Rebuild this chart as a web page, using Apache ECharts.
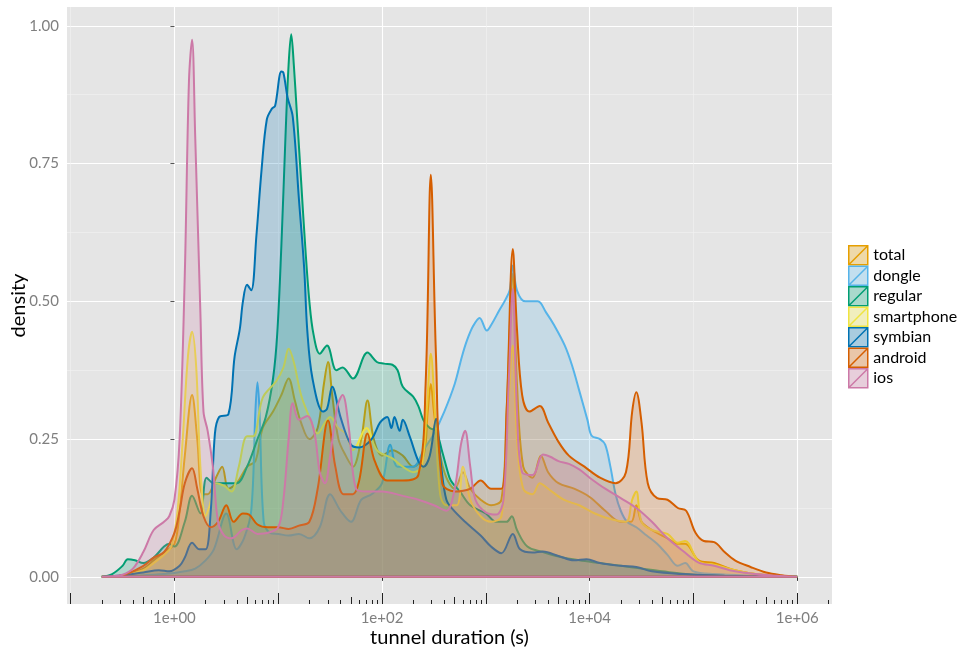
<!DOCTYPE html>
<html><head><meta charset="utf-8">
<script src="https://cdn.jsdelivr.net/npm/echarts@6/dist/echarts.min.js"></script>
<style>html,body{margin:0;padding:0;background:#fff}#chart{width:965px;height:650px}</style>
</head><body><div id="chart"></div>
<script>
// x values are log10(tunnel duration in seconds), y values are density
const seriesNames = ['total','dongle','regular','smartphone','symbian','android','ios'];
const lineColors = ['#E69F00','#56B4E9','#009E73','#F0E442','#0072B2','#D55E00','#CC79A7'];

const total = [[-0.7,0],[-0.5,0.003],[-0.3,0.015],[-0.2,0.03],[-0.1,0.045],[0,0.06],[0.05,0.12],[0.1,0.22],[0.17,0.33],[0.22,0.25],[0.27,0.15],[0.32,0.15],[0.4,0.18],[0.46,0.2],[0.52,0.16],[0.6,0.17],[0.7,0.2],[0.78,0.21],[0.85,0.27],[0.95,0.3],[1.03,0.33],[1.1,0.36],[1.16,0.32],[1.22,0.28],[1.3,0.25],[1.38,0.27],[1.44,0.35],[1.48,0.39],[1.52,0.33],[1.58,0.25],[1.65,0.22],[1.72,0.2],[1.8,0.25],[1.86,0.32],[1.92,0.25],[2.0,0.22],[2.1,0.23],[2.2,0.22],[2.3,0.2],[2.4,0.22],[2.44,0.3],[2.47,0.35],[2.5,0.3],[2.55,0.23],[2.62,0.18],[2.7,0.16],[2.78,0.19],[2.85,0.16],[2.95,0.14],[3.05,0.13],[3.15,0.14],[3.2,0.3],[3.26,0.55],[3.3,0.35],[3.36,0.2],[3.45,0.18],[3.53,0.22],[3.6,0.19],[3.7,0.17],[3.85,0.16],[4.0,0.145],[4.15,0.12],[4.3,0.1],[4.4,0.1],[4.45,0.13],[4.5,0.1],[4.6,0.085],[4.75,0.07],[4.85,0.06],[4.92,0.06],[5.05,0.03],[5.2,0.025],[5.4,0.012],[5.6,0.005],[5.8,0.002],[6.0,0]];

const dongle = [[-0.7,0],[-0.4,0.002],[-0.1,0.005],[0.1,0.01],[0.2,0.015],[0.3,0.03],[0.38,0.05],[0.5,0.115],[0.6,0.05],[0.67,0.07],[0.74,0.12],[0.78,0.3],[0.8,0.353],[0.82,0.3],[0.86,0.1],[0.92,0.08],[1.0,0.078],[1.1,0.075],[1.2,0.078],[1.3,0.07],[1.4,0.09],[1.5,0.15],[1.6,0.12],[1.7,0.1],[1.8,0.14],[1.9,0.15],[2.0,0.17],[2.08,0.24],[2.15,0.2],[2.3,0.2],[2.4,0.23],[2.5,0.26],[2.6,0.3],[2.7,0.35],[2.77,0.4],[2.82,0.43],[2.88,0.456],[2.94,0.47],[3.01,0.447],[3.06,0.46],[3.13,0.484],[3.18,0.5],[3.23,0.52],[3.26,0.565],[3.3,0.52],[3.38,0.5],[3.5,0.5],[3.58,0.48],[3.66,0.456],[3.76,0.42],[3.83,0.384],[3.9,0.338],[3.98,0.284],[4.02,0.256],[4.1,0.25],[4.15,0.24],[4.2,0.2],[4.25,0.15],[4.3,0.12],[4.36,0.1],[4.45,0.09],[4.55,0.075],[4.65,0.06],[4.75,0.04],[4.85,0.02],[4.92,0.025],[5.0,0.01],[5.2,0.005],[5.6,0.002],[6.0,0]];

const regular = [[-0.7,0],[-0.6,0.005],[-0.5,0.02],[-0.45,0.032],[-0.38,0.03],[-0.3,0.025],[-0.2,0.035],[-0.1,0.055],[-0.05,0.06],[0,0.055],[0.1,0.1],[0.17,0.147],[0.25,0.115],[0.31,0.18],[0.38,0.17],[0.5,0.17],[0.6,0.17],[0.7,0.2],[0.8,0.25],[0.88,0.29],[0.95,0.36],[0.99,0.44],[1.03,0.6],[1.07,0.8],[1.1,0.93],[1.125,0.985],[1.15,0.93],[1.18,0.84],[1.22,0.72],[1.26,0.6],[1.3,0.5],[1.34,0.44],[1.4,0.405],[1.47,0.42],[1.56,0.375],[1.62,0.38],[1.72,0.36],[1.86,0.407],[1.95,0.39],[2.02,0.387],[2.1,0.385],[2.15,0.375],[2.2,0.345],[2.3,0.327],[2.35,0.31],[2.4,0.284],[2.46,0.27],[2.52,0.265],[2.58,0.227],[2.65,0.18],[2.68,0.17],[2.75,0.155],[2.85,0.13],[3.0,0.115],[3.1,0.1],[3.2,0.1],[3.25,0.11],[3.3,0.085],[3.4,0.055],[3.55,0.045],[3.7,0.037],[3.9,0.03],[4.1,0.025],[4.3,0.02],[4.5,0.015],[4.7,0.01],[5.0,0.004],[5.4,0.001],[6.0,0]];

const smartphone = [[-0.7,0],[-0.5,0.002],[-0.3,0.012],[-0.2,0.025],[-0.1,0.04],[-0.03,0.055],[0.03,0.12],[0.08,0.25],[0.13,0.4],[0.17,0.445],[0.21,0.38],[0.25,0.2],[0.3,0.11],[0.34,0.13],[0.4,0.17],[0.48,0.165],[0.55,0.155],[0.62,0.2],[0.7,0.255],[0.76,0.255],[0.85,0.325],[0.98,0.355],[1.05,0.38],[1.1,0.414],[1.15,0.39],[1.22,0.33],[1.3,0.29],[1.38,0.26],[1.45,0.28],[1.5,0.29],[1.58,0.27],[1.65,0.26],[1.72,0.23],[1.85,0.27],[1.95,0.23],[2.1,0.215],[2.2,0.2],[2.3,0.19],[2.38,0.2],[2.43,0.3],[2.47,0.405],[2.51,0.3],[2.56,0.15],[2.62,0.13],[2.72,0.13],[2.78,0.2],[2.85,0.14],[2.95,0.11],[3.05,0.1],[3.15,0.11],[3.2,0.25],[3.26,0.42],[3.3,0.25],[3.36,0.16],[3.45,0.15],[3.52,0.17],[3.6,0.16],[3.75,0.14],[3.9,0.13],[4.05,0.115],[4.2,0.105],[4.35,0.1],[4.41,0.14],[4.45,0.155],[4.5,0.1],[4.6,0.085],[4.75,0.078],[4.85,0.062],[4.92,0.065],[5.05,0.028],[5.2,0.022],[5.4,0.012],[5.6,0.005],[5.8,0.002],[6.0,0]];

const symbian = [[-0.7,0],[-0.5,0.003],[-0.3,0.008],[-0.15,0.012],[-0.05,0.01],[0.05,0.02],[0.1,0.035],[0.17,0.062],[0.24,0.05],[0.3,0.05],[0.35,0.12],[0.39,0.26],[0.43,0.29],[0.52,0.295],[0.58,0.4],[0.63,0.45],[0.66,0.5],[0.7,0.53],[0.74,0.52],[0.79,0.62],[0.84,0.74],[0.89,0.83],[0.94,0.85],[0.97,0.855],[1.03,0.917],[1.05,0.915],[1.09,0.87],[1.14,0.835],[1.2,0.684],[1.25,0.56],[1.28,0.447],[1.33,0.36],[1.43,0.3],[1.47,0.305],[1.52,0.345],[1.6,0.29],[1.7,0.24],[1.78,0.235],[1.9,0.25],[1.98,0.28],[2.05,0.29],[2.09,0.27],[2.12,0.29],[2.17,0.265],[2.2,0.285],[2.27,0.253],[2.35,0.21],[2.4,0.2],[2.46,0.22],[2.52,0.287],[2.57,0.2],[2.62,0.14],[2.68,0.123],[2.8,0.1],[2.95,0.075],[3.05,0.055],[3.15,0.043],[3.26,0.078],[3.33,0.05],[3.45,0.044],[3.55,0.046],[3.7,0.038],[3.85,0.03],[3.97,0.032],[4.1,0.025],[4.3,0.02],[4.45,0.018],[4.6,0.01],[4.9,0.005],[5.3,0.002],[6.0,0]];

const android = [[-0.7,0],[-0.5,0.003],[-0.3,0.02],[-0.2,0.035],[-0.1,0.045],[0,0.08],[0.05,0.12],[0.1,0.17],[0.17,0.197],[0.22,0.16],[0.28,0.11],[0.35,0.09],[0.42,0.1],[0.5,0.13],[0.57,0.1],[0.66,0.115],[0.72,0.113],[0.8,0.095],[0.9,0.09],[1.0,0.09],[1.1,0.087],[1.2,0.093],[1.3,0.1],[1.38,0.16],[1.48,0.284],[1.55,0.2],[1.63,0.15],[1.72,0.15],[1.78,0.175],[1.86,0.26],[1.93,0.21],[2.05,0.175],[2.2,0.175],[2.35,0.185],[2.42,0.35],[2.47,0.73],[2.52,0.4],[2.58,0.17],[2.7,0.155],[2.85,0.16],[2.95,0.175],[3.05,0.16],[3.15,0.16],[3.2,0.3],[3.26,0.595],[3.3,0.45],[3.35,0.33],[3.42,0.3],[3.52,0.31],[3.6,0.28],[3.7,0.245],[3.8,0.22],[3.95,0.2],[4.1,0.18],[4.25,0.17],[4.35,0.19],[4.41,0.3],[4.45,0.335],[4.5,0.28],[4.56,0.17],[4.65,0.143],[4.75,0.14],[4.85,0.125],[4.93,0.12],[5.02,0.08],[5.1,0.065],[5.2,0.063],[5.3,0.045],[5.4,0.03],[5.55,0.018],[5.7,0.008],[5.85,0.003],[6.0,0]];

const ios = [[-0.7,0],[-0.6,0.001],[-0.5,0.004],[-0.4,0.015],[-0.3,0.045],[-0.2,0.085],[-0.1,0.1],[-0.05,0.11],[0,0.14],[0.05,0.25],[0.1,0.55],[0.14,0.9],[0.17,0.975],[0.2,0.8],[0.25,0.48],[0.28,0.3],[0.32,0.265],[0.37,0.2],[0.42,0.1],[0.48,0.075],[0.55,0.07],[0.65,0.085],[0.7,0.088],[0.8,0.078],[0.9,0.08],[1.0,0.09],[1.05,0.14],[1.1,0.25],[1.14,0.315],[1.2,0.285],[1.28,0.292],[1.35,0.26],[1.4,0.19],[1.45,0.17],[1.5,0.22],[1.57,0.31],[1.62,0.33],[1.68,0.27],[1.75,0.16],[1.85,0.155],[2.0,0.155],[2.2,0.147],[2.35,0.14],[2.5,0.13],[2.62,0.12],[2.7,0.16],[2.76,0.24],[2.8,0.265],[2.85,0.2],[2.9,0.14],[3.0,0.117],[3.1,0.113],[3.17,0.14],[3.22,0.35],[3.26,0.523],[3.3,0.3],[3.35,0.19],[3.45,0.185],[3.55,0.222],[3.62,0.218],[3.7,0.21],[3.8,0.205],[3.9,0.195],[4.0,0.18],[4.15,0.16],[4.3,0.143],[4.45,0.125],[4.6,0.1],[4.75,0.07],[4.9,0.047],[5.05,0.026],[5.2,0.02],[5.4,0.01],[5.6,0.005],[5.8,0.002],[6.0,0]];

const xTickValues = [0, 2, 4, 6];
const xTickLabels = ['1e+00', '1e+02', '1e+04', '1e+06'];
const xMinorValues = [-1, 1, 3, 5];
const yTickValues = [0, 0.25, 0.5, 0.75, 1];
const yTickLabels = ['0.00', '0.25', '0.50', '0.75', '1.00'];
const yMinorValues = [0.125, 0.375, 0.625, 0.875];

const dataSets = [total, dongle, regular, smartphone, symbian, android, ios];

// axis ranges with 5% expansion (ggplot style)
const dataXMin = -0.7, dataXMax = 6.0, dataYMax = 0.985;
const xMin = dataXMin - 0.05 * (dataXMax - dataXMin);
const xMax = dataXMax + 0.05 * (dataXMax - dataXMin);
const yMin = -0.05 * dataYMax;
const yMax = dataYMax * 1.05;

// log ticks (annotation_logticks)
const logLong = [], logMid = [], logShort = [];
for (let d = -2; d <= 7; d++) {
  for (let k = 1; k <= 9; k++) {
    const v = d + Math.log10(k);
    if (v < xMin || v > xMax) continue;
    if (k === 1) logLong.push(v); else if (k === 5) logMid.push(v); else logShort.push(v);
  }
}

function hexRgb(h) { return [parseInt(h.slice(1,3),16), parseInt(h.slice(3,5),16), parseInt(h.slice(5,7),16)]; }
function rgba(h, a) { const c = hexRgb(h); return 'rgba(' + c[0] + ',' + c[1] + ',' + c[2] + ',' + a + ')'; }
function mixOn(h, a, bg) { const c = hexRgb(h), b = hexRgb(bg); return 'rgb(' + c.map((v,i)=>Math.round(v*a + b[i]*(1-a))).join(',') + ')'; }

const FONT = 'Lato';
const gridBox = { left: 67, top: 7, width: 765, height: 597 };

function tickAxis(values, len) {
  return {
    type: 'value', position: 'bottom', min: xMin, max: xMax, gridIndex: 0,
    axisLine: { show: false }, axisLabel: { show: false }, splitLine: { show: false },
    axisTick: { show: true, inside: true, length: len, customValues: values, lineStyle: { color: '#222', width: 1 } }
  };
}

const option = {
  animation: false,
  grid: Object.assign({ show: true, backgroundColor: '#E5E5E5', borderWidth: 0, containLabel: false, outerBoundsMode: 'none' }, gridBox),
  xAxis: [
    {
      type: 'value', position: 'bottom', min: xMin, max: xMax,
      name: 'tunnel duration (s)', nameLocation: 'middle', nameGap: 24, nameMoveOverlap: false,
      nameTextStyle: { fontFamily: FONT, fontSize: 20, color: '#000' },
      axisLine: { show: false },
      axisTick: { show: true, length: 4, customValues: xTickValues, lineStyle: { color: '#333', width: 1 } },
      axisLabel: { customValues: xTickValues, margin: 7, color: '#7F7F7F', fontFamily: FONT, fontSize: 15,
        formatter: v => { const i = xTickValues.findIndex(t => Math.abs(t - v) < 1e-9); return i >= 0 ? xTickLabels[i] : ''; } },
      splitLine: { show: true, lineStyle: { color: '#FFFFFF', width: 1.1 } }
    },
    {
      type: 'value', position: 'bottom', min: xMin, max: xMax,
      axisLine: { show: false }, axisLabel: { show: false },
      axisTick: { show: false, customValues: xMinorValues },
      splitLine: { show: true, lineStyle: { color: '#F2F2F2', width: 0.6 } }
    },
    tickAxis(logLong, 11),
    tickAxis(logMid, 7),
    tickAxis(logShort, 4)
  ],
  yAxis: [
    {
      type: 'value', position: 'left', min: yMin, max: yMax,
      name: 'density', nameLocation: 'middle', nameGap: 38, nameRotate: 90, nameMoveOverlap: false,
      nameTextStyle: { fontFamily: FONT, fontSize: 20, color: '#000' },
      axisLine: { show: false },
      axisTick: { show: true, length: 4, customValues: yTickValues, lineStyle: { color: '#555', width: 1 } },
      axisLabel: { customValues: yTickValues, margin: 8, color: '#7F7F7F', fontFamily: FONT, fontSize: 15,
        formatter: v => { const i = yTickValues.findIndex(t => Math.abs(t - v) < 1e-9); return i >= 0 ? yTickLabels[i] : ''; } },
      splitLine: { show: true, lineStyle: { color: '#FFFFFF', width: 1.1 } }
    },
    {
      type: 'value', position: 'left', min: yMin, max: yMax,
      axisLine: { show: false }, axisLabel: { show: false },
      axisTick: { show: false, customValues: yMinorValues },
      splitLine: { show: true, lineStyle: { color: '#F2F2F2', width: 0.6 } }
    }
  ],
  legend: {
    orient: 'vertical', left: 848, top: 245, padding: 0,
    itemWidth: 20, itemHeight: 19, itemGap: 0, selectedMode: false,
    textStyle: { fontFamily: FONT, fontSize: 16, color: '#000', lineHeight: 18 },
    data: seriesNames.map((n, i) => ({
      name: n,
      icon: 'path://M0,0L20,0L20,20L0,20ZM0,20L20,0',
      itemStyle: { color: mixOn(lineColors[i], 0.3, '#F2F2F2'), borderColor: lineColors[i], borderWidth: 1.5 }
    }))
  },
  series: seriesNames.map((n, i) => {
    const pts = dataSets[i];
    return {
      name: n, type: 'line', xAxisIndex: 0, yAxisIndex: 0, z: 2 + i,
      data: pts.concat([[pts[0][0], 0]]),
      smooth: 0.35, showSymbol: false, symbol: 'none', silent: true,
      lineStyle: { color: lineColors[i], width: 2 },
      itemStyle: { color: lineColors[i] },
      areaStyle: { color: rgba(lineColors[i], 0.3) },
      emphasis: { disabled: true }
    };
  })
};

const chart = echarts.init(document.getElementById('chart'), null, { renderer: 'canvas' });
chart.setOption(option);
</script></body></html>
